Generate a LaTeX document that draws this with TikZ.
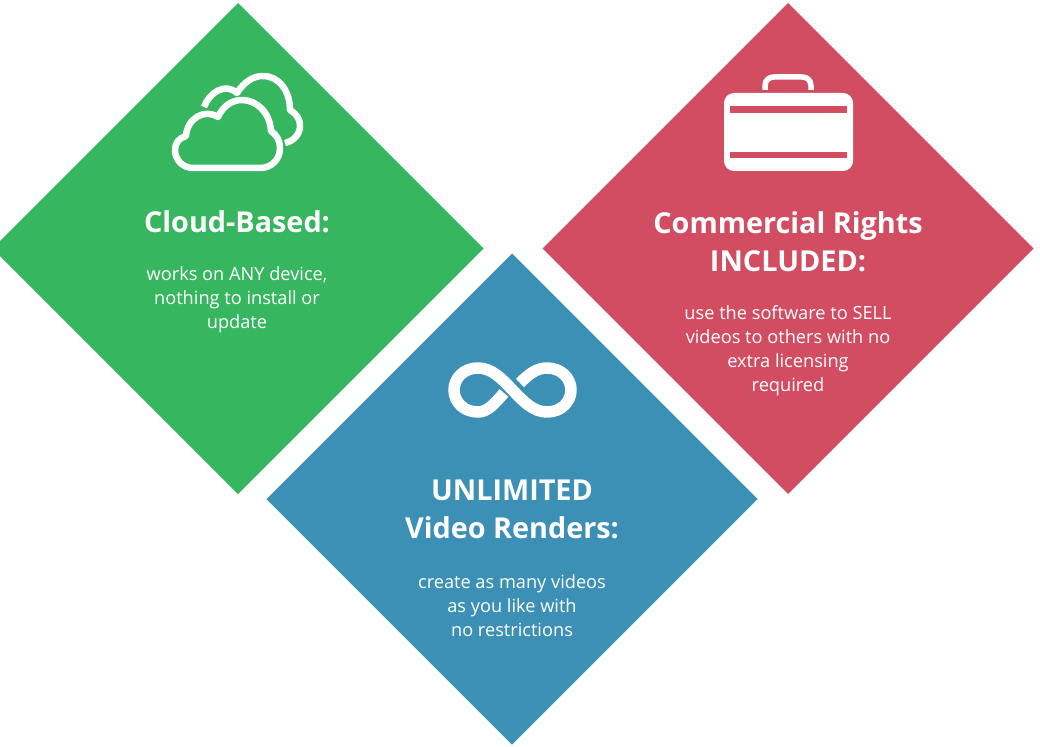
\documentclass[tikz,border=0pt]{standalone}
\usepackage{fontspec}
\setmainfont{Open Sans}
\usepackage{tikz}
\usetikzlibrary{shapes.geometric,positioning}
\definecolor{cloudgreen}{HTML}{36B65E}
\definecolor{rightsred}{HTML}{D24D62}
\definecolor{renderblue}{HTML}{3C90B5}
\tikzset{
	tile/.style={diamond,aspect=1,inner sep=0pt,outer sep=0pt,minimum width=491pt,minimum height=491pt},
	headtext/.style={text=white,align=center,font=\fontsize{28.8}{38}\selectfont\bfseries,inner sep=0pt},
	bodytext/.style={text=white,align=center,font=\fontsize{18.2}{24}\selectfont,inner sep=0pt},
	iconline/.style={draw=white,line width=6.5pt,line join=round}
}
\begin{document}
\begin{tikzpicture}[x=1pt,y=-1pt]
	\useasboundingbox (0,0) rectangle (1040,746);
	% tiles
	\node[tile,fill=cloudgreen] (cloud) at (238,248.5) {};
	\node[tile,fill=rightsred] (rights) at (788,248.5) {};
	\node[tile,fill=renderblue] (renders) at (512,499) {};
	% texts
	\node[headtext] (cloudhead) at (237,222) {Cloud-Based:};
	\node[bodytext] (cloudbody) at (237,299.5) {works on ANY device,\\nothing to install or\\update};
	\node[headtext] (rightshead) at (788,242) {Commercial Rights\\INCLUDED:};
	\node[bodytext] (rightsbody) at (788,350.5) {use the software to SELL\\videos to others with no\\extra licensing\\required};
	\node[headtext] (rendershead) at (512,509.5) {UNLIMITED\\Video Renders:};
	\node[bodytext] (rendersbody) at (512,605.5) {create as many videos\\as you like with\\no restrictions};
	% clouds
	\draw[iconline] (193,168) -- (260,168)
		.. controls (272,168) and (280,159) .. (280,148)
		.. controls (280,141) and (277,135) .. (271,131)
		.. controls (270,113) and (257,100) .. (242,100)
		.. controls (232,100) and (223,106) .. (218,117)
		.. controls (204,108) and (187,119) .. (186,136)
		.. controls (179,138) and (175,143) .. (175,150)
		.. controls (175,160) and (183,168) .. (193,168) -- cycle;
	\draw[iconline] (204,107)
		.. controls (209,93) and (225,82) .. (237,93)
		.. controls (244,82) and (253,76) .. (263,76)
		.. controls (279,76) and (290,91) .. (290,110)
		.. controls (298,115) and (300,120) .. (300,126)
		.. controls (300,134) and (294,141) .. (285,143);
	% briefcase
	\draw[iconline,line width=5.5pt] (765,90) -- (765,86)
		.. controls (765,80) and (769,77) .. (774,77) -- (802,77)
		.. controls (807,77) and (811,80) .. (811,86) -- (811,90);
	\fill[white,rounded corners=10pt] (724,93) rectangle (853,171);
	\fill[rightsred] (730,106.5) rectangle (847,113);
	\fill[rightsred] (730,152) rectangle (847,158);
	% infinity
	\draw[iconline,line width=11.5pt] (504,393)
		.. controls (495,403) and (488,412) .. (478,412)
		.. controls (464,412) and (454,402) .. (454,390)
		.. controls (454,378) and (464,368) .. (478,368)
		.. controls (492,368) and (502,379) .. (512.5,390)
		.. controls (523,401) and (533,412) .. (547,412)
		.. controls (561,412) and (571,402) .. (571,390)
		.. controls (571,378) and (561,368) .. (547,368)
		.. controls (536,368) and (528,375) .. (520,383);
\end{tikzpicture}
\end{document}
